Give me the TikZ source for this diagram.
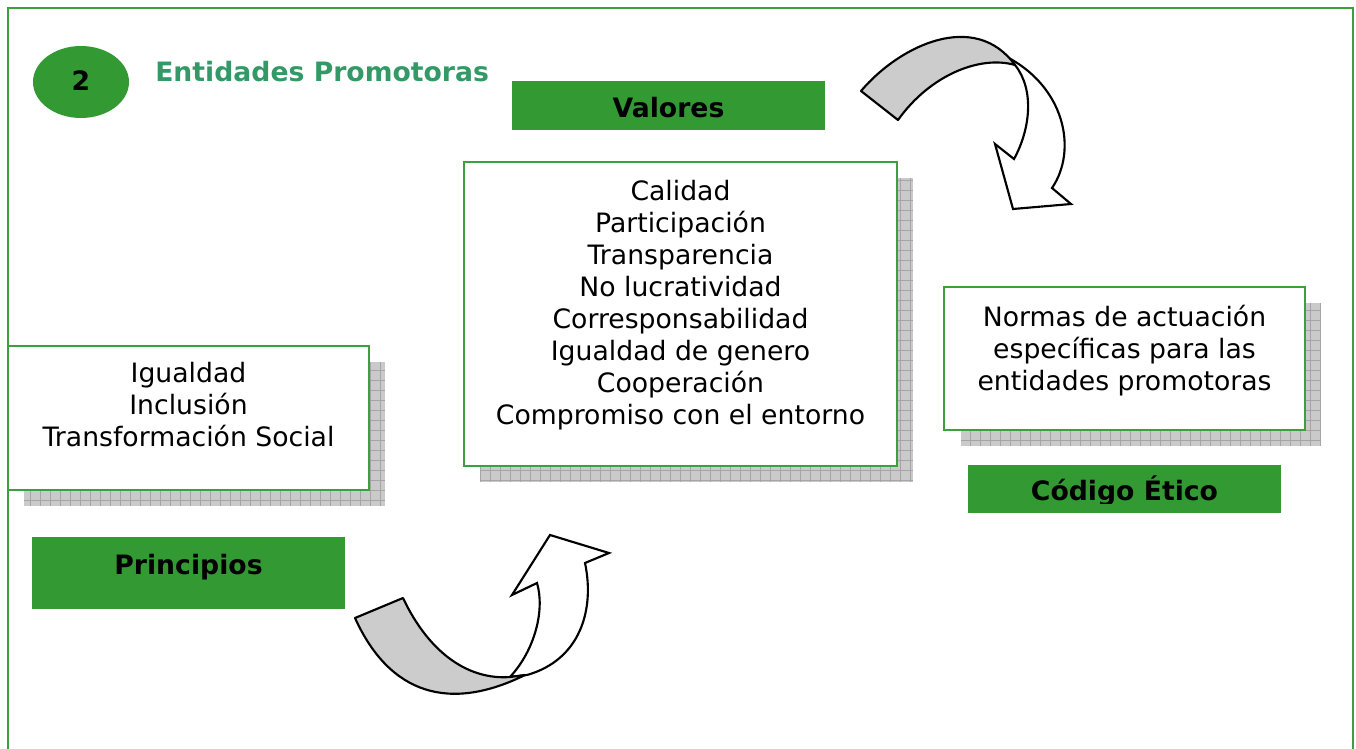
\documentclass[tikz,border=0pt]{standalone}
\usepackage{fontspec}
\setmainfont{DejaVu Sans}
\usetikzlibrary{shapes.geometric}
\definecolor{boxgreen}{RGB}{51,153,51}
\definecolor{framegreen}{RGB}{60,160,60}
\definecolor{titlegreen}{RGB}{51,153,102}
\definecolor{shfill}{RGB}{202,202,202}
\definecolor{shgrid}{RGB}{165,165,165}
\definecolor{arrgrey}{RGB}{204,204,204}
\newcommand\hatchshadow[4]{%
  \fill[shfill] (#1,#2) rectangle (#3,#4);
  \begin{scope}
    \clip (#1,#2) rectangle (#3,#4);
    \draw[shadowgrid] (#1,#2) grid (#3,#4);
  \end{scope}}
\tikzset{
  shadowgrid/.style={draw=shgrid, line width=0.5pt, step=7.5pt},
  whitebox/.style={draw=framegreen, fill=white, line width=1.4pt, rectangle, inner sep=0pt},
  labelbox/.style={fill=boxgreen, rectangle, inner sep=0pt},
  bodytext/.style={font=\fontsize{20}{24}\selectfont, align=center, inner sep=0pt},
  labeltext/.style={font=\fontsize{20}{24}\selectfont\bfseries, inner sep=0pt, anchor=base},
  greyband/.style={fill=arrgrey, draw=black, line width=1.6pt, line join=round},
  whitearrow/.style={fill=white, draw=black, line width=1.6pt, line join=miter},
}
\begin{document}
\begin{tikzpicture}[x=0.75pt, y=-0.75pt]
\useasboundingbox (0,0) rectangle (1356,749);
% page frame
\draw[framegreen, line width=1.6pt] (8,8) -- (1353,8) -- (1353,760) -- (8,760) -- cycle;
% number badge and title
\node[ellipse, fill=boxgreen, minimum width=72pt, minimum height=54pt, inner sep=0pt] (badge) at (81,82) {};
\node[labeltext] (num) at (81,90) {2};
\node[labeltext, anchor=base west, text=titlegreen] (title) at (155,82) {Entidades Promotoras};
% Valores
\node[labelbox, minimum width=234.75pt, minimum height=36.75pt] (valbox) at (668.5,105.5) {};
\node[labeltext] (vallabel) at (668.5,117.5) {Valores};
\hatchshadow{480}{178}{913}{482}
\node[whitebox, minimum width=324.75pt, minimum height=228pt] (valuesbox) at (680.5,314) {};
\node[bodytext, anchor=base] (values) at (680.5,424) {Calidad\\Participación\\Transparencia\\No lucratividad\\Corresponsabilidad\\Igualdad de genero\\Cooperación\\Compromiso con el entorno};
% Principios
\hatchshadow{24}{362}{385}{506}
\node[whitebox, minimum width=270.75pt, minimum height=108pt] (princbox) at (188.5,418) {};
\node[bodytext, anchor=base] (princtext) at (188.5,446.7) {Igualdad\\Inclusión\\Transformación Social};
\node[labelbox, minimum width=234.75pt, minimum height=54pt] (princlabelbox) at (188.5,573) {};
\node[labeltext] (princlabel) at (188.5,574) {Principios};
% Codigo Etico
\hatchshadow{961}{303}{1321}{446}
\node[whitebox, minimum width=270.75pt, minimum height=107.25pt] (normbox) at (1124.5,358.5) {};
\node[bodytext, anchor=base] (normtext) at (1124.5,390) {Normas de actuación\\específicas para las\\entidades promotoras};
\node[labelbox, minimum width=234.75pt, minimum height=36pt] (codbox) at (1124.5,489) {};
\begin{scope}
  \clip (968,465) rectangle (1281,503);
  \node[labeltext] (codlabel) at (1124.5,500) {Código Ético};
\end{scope}
% top curved arrow
\draw[whitearrow] (1003,55) .. controls (1065,85) and (1078,150) .. (1052,188) -- (1071,204) -- (1013,209) -- (995,144) -- (1014,159) .. controls (1030,130) and (1035,90) .. (1015,65) -- cycle;
\draw[greyband] (861,91) .. controls (900,45) and (975,10) .. (1015,65) .. controls (980,55) and (930,75) .. (898,120) -- cycle;
% bottom curved arrow
\draw[whitearrow] (510,677) .. controls (535,650) and (545,610) .. (537,583) -- (512,595) -- (550,535) -- (609,553) -- (585,563) .. controls (595,610) and (580,660) .. (527,675) -- cycle;
\draw[greyband] (355,618) .. controls (390,695) and (450,712) .. (525,675) -- (510,677) .. controls (470,680) and (430,655) .. (403,598) -- cycle;
\end{tikzpicture}
\end{document}
